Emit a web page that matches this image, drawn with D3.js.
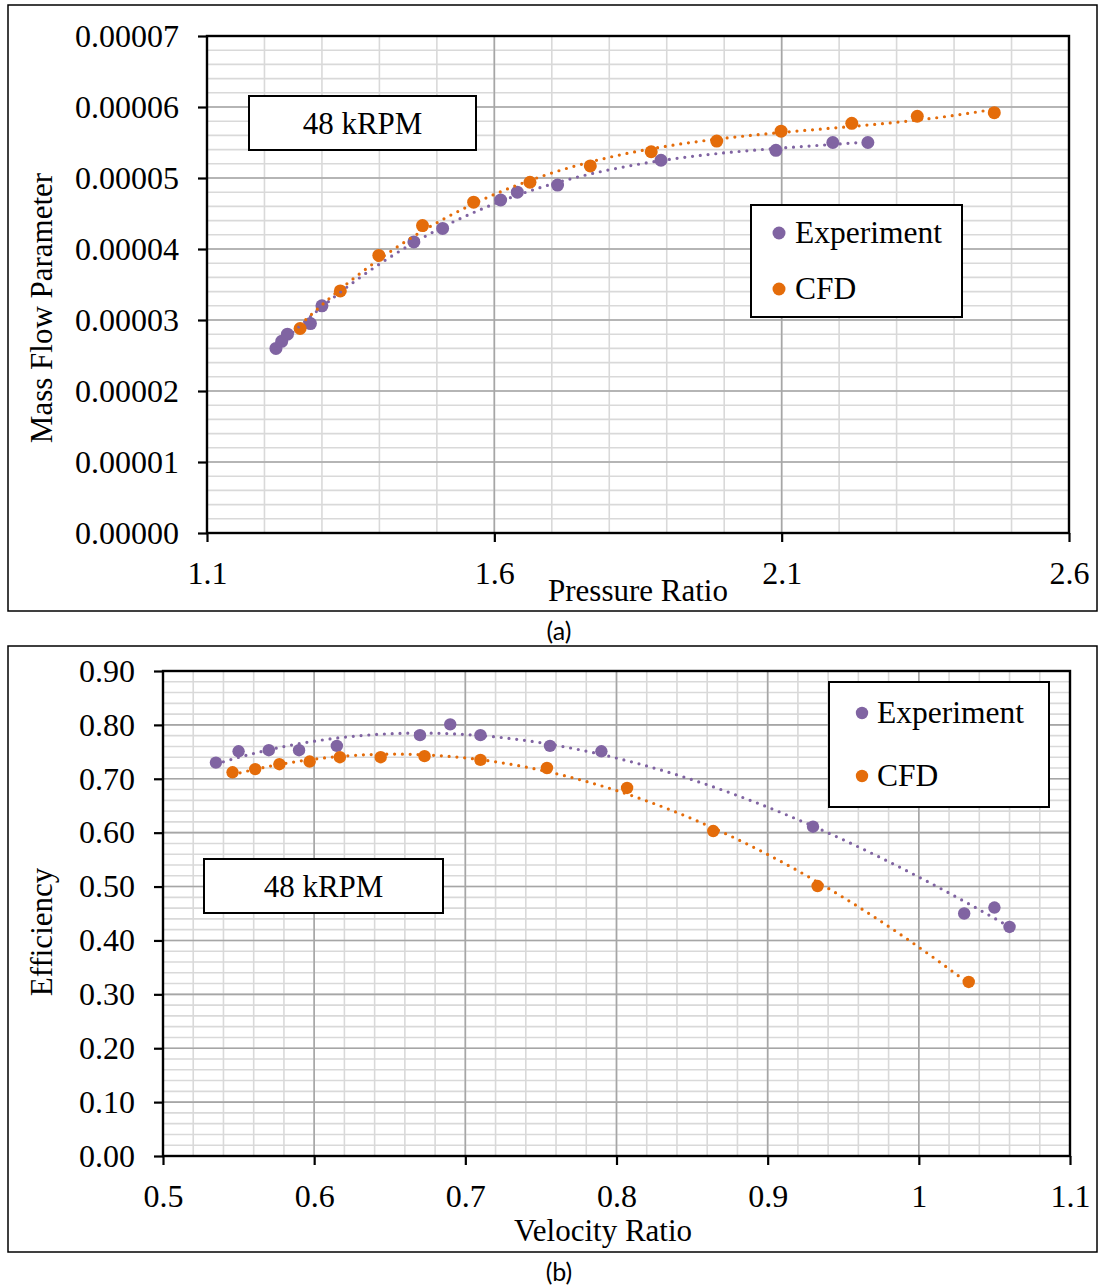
<!DOCTYPE html>
<html>
<head>
<meta charset="utf-8">
<script src="https://cdn.jsdelivr.net/npm/d3@7"></script>
<style>
  body { margin: 0; background: #fff; }
  svg text { font-family: "Liberation Serif", "Times New Roman", serif; fill: #000; }
  svg text.caption { font-family: Lato, "Open Sans", sans-serif; }
</style>
</head>
<body>
<svg id="fig" width="1099" height="1286"></svg>
<script>
// ---- Panel (a): mass flow parameter vs pressure ratio ----
const prExperiment  = [1.220, 1.230, 1.240, 1.280, 1.300, 1.460, 1.510, 1.611, 1.640, 1.710, 1.890, 2.090, 2.189, 2.250];
const mfpExperiment = [2.60e-5, 2.70e-5, 2.80e-5, 2.95e-5, 3.20e-5, 4.10e-5, 4.29e-5, 4.69e-5, 4.80e-5, 4.90e-5, 5.25e-5, 5.39e-5, 5.50e-5, 5.50e-5];
const prCFD  = [1.262, 1.332, 1.399, 1.475, 1.564, 1.662, 1.767, 1.873, 1.987, 2.099, 2.222, 2.336, 2.470];
const mfpCFD = [2.88e-5, 3.41e-5, 3.91e-5, 4.33e-5, 4.66e-5, 4.94e-5, 5.17e-5, 5.37e-5, 5.52e-5, 5.66e-5, 5.77e-5, 5.87e-5, 5.92e-5];
const prTicks  = [1.1, 1.6, 2.1, 2.6];
const mfpTicks = [0, 0.00001, 0.00002, 0.00003, 0.00004, 0.00005, 0.00006, 0.00007];

// ---- Panel (b): efficiency vs velocity ratio ----
const vrExperiment  = [0.535, 0.550, 0.570, 0.590, 0.615, 0.670, 0.690, 0.710, 0.756, 0.790, 0.930, 1.030, 1.050, 1.060];
const effExperiment = [0.730, 0.751, 0.753, 0.753, 0.761, 0.781, 0.801, 0.781, 0.761, 0.751, 0.611, 0.450, 0.461, 0.425];
const vrCFD  = [0.546, 0.561, 0.577, 0.597, 0.617, 0.644, 0.673, 0.710, 0.754, 0.807, 0.864, 0.933, 1.033];
const effCFD = [0.712, 0.718, 0.727, 0.732, 0.740, 0.740, 0.742, 0.735, 0.720, 0.683, 0.603, 0.501, 0.323];
const vrTicks  = [0.5, 0.6, 0.7, 0.8, 0.9, 1.0, 1.1];
const effTicks = [0, 0.1, 0.2, 0.3, 0.4, 0.5, 0.6, 0.7, 0.8, 0.9];

const seriesNames  = ["Experiment", "CFD"];
const seriesColors = ["#8064A2", "#E46C0A"];
const speedLabel = "48 kRPM";

const svg = d3.select("#fig");

// Least-squares polynomial fit (x centred for conditioning)
function polyfit(xs, ys, order) {
  const mx = d3.mean(xs);
  const n = order + 1;
  const A = Array.from({length: n}, () => new Array(n).fill(0));
  const b = new Array(n).fill(0);
  xs.forEach((x0, k) => {
    const x = x0 - mx;
    for (let i = 0; i < n; i++) {
      b[i] += ys[k] * Math.pow(x, i);
      for (let j = 0; j < n; j++) A[i][j] += Math.pow(x, i + j);
    }
  });
  for (let c = 0; c < n; c++) {
    let p = c;
    for (let r = c + 1; r < n; r++) if (Math.abs(A[r][c]) > Math.abs(A[p][c])) p = r;
    [A[c], A[p]] = [A[p], A[c]]; [b[c], b[p]] = [b[p], b[c]];
    for (let r = c + 1; r < n; r++) {
      const f = A[r][c] / A[c][c];
      for (let j = c; j < n; j++) A[r][j] -= f * A[c][j];
      b[r] -= f * b[c];
    }
  }
  const coef = new Array(n).fill(0);
  for (let i = n - 1; i >= 0; i--) {
    let s = b[i];
    for (let j = i + 1; j < n; j++) s -= A[i][j] * coef[j];
    coef[i] = s / A[i][i];
  }
  return x => coef.reduce((s, c, i) => s + c * Math.pow(x - mx, i), 0);
}

function drawPanel(cfg) {
  const g = svg.append("g");
  // outer frame
  g.append("rect").attr("x", cfg.frame[0]).attr("y", cfg.frame[1])
    .attr("width", cfg.frame[2] - cfg.frame[0]).attr("height", cfg.frame[3] - cfg.frame[1])
    .attr("fill", "none").attr("stroke", "#000").attr("stroke-width", 1.5);

  const x = d3.scaleLinear().domain(cfg.xDomain).range([cfg.left, cfg.right]);
  const y = d3.scaleLinear().domain(cfg.yDomain).range([cfg.bottom, cfg.top]);

  // minor grid
  const xMinor = d3.range(cfg.xDomain[0], cfg.xDomain[1] + cfg.xMinor / 2, cfg.xMinor);
  const yMinor = d3.range(cfg.yDomain[0], cfg.yDomain[1] + cfg.yMinor / 2, cfg.yMinor);
  g.append("g").selectAll("line").data(xMinor).join("line")
    .attr("x1", d => x(d)).attr("x2", d => x(d)).attr("y1", cfg.top).attr("y2", cfg.bottom)
    .attr("stroke", "#d9d9d9").attr("stroke-width", 1.6);
  g.append("g").selectAll("line").data(yMinor).join("line")
    .attr("x1", cfg.left).attr("x2", cfg.right).attr("y1", d => y(d)).attr("y2", d => y(d))
    .attr("stroke", "#d9d9d9").attr("stroke-width", 1.6);
  // major grid
  g.append("g").selectAll("line").data(cfg.xTicks).join("line")
    .attr("x1", d => x(d)).attr("x2", d => x(d)).attr("y1", cfg.top).attr("y2", cfg.bottom)
    .attr("stroke", "#a6a6a6").attr("stroke-width", 1.6);
  g.append("g").selectAll("line").data(cfg.yTicks).join("line")
    .attr("x1", cfg.left).attr("x2", cfg.right).attr("y1", d => y(d)).attr("y2", d => y(d))
    .attr("stroke", "#a6a6a6").attr("stroke-width", 1.6);

  // plot border (top / right) and axes
  g.append("rect").attr("x", cfg.left).attr("y", cfg.top)
    .attr("width", cfg.right - cfg.left).attr("height", cfg.bottom - cfg.top)
    .attr("fill", "none").attr("stroke", "#000").attr("stroke-width", 2.4);

  const yAxis = g.append("g").attr("transform", `translate(${cfg.left},0)`)
    .call(d3.axisLeft(y).tickValues(cfg.yTicks).tickFormat(cfg.yFormat).tickSize(9).tickPadding(19));
  const xAxis = g.append("g").attr("transform", `translate(0,${cfg.bottom})`)
    .call(d3.axisBottom(x).tickValues(cfg.xTicks).tickFormat(cfg.xFormat).tickSize(9).tickPadding(19));
  [yAxis, xAxis].forEach(a => {
    a.select(".domain").remove();
    a.selectAll(".tick line").attr("stroke", "#000").attr("stroke-width", 2.2);
    a.selectAll(".tick text").attr("font-size", 32).attr("fill", "#000");
  });

  // axis titles
  g.append("text").attr("x", cfg.xTitle[0]).attr("y", cfg.xTitle[1])
    .attr("text-anchor", "middle").attr("font-size", 31).text(cfg.xLabel);
  g.append("text").attr("transform", `translate(${cfg.yTitle[0]},${cfg.yTitle[1]}) rotate(-90)`)
    .attr("text-anchor", "middle").attr("font-size", 31).text(cfg.yLabel);

  // markers
  cfg.series.forEach((s, i) => {
    g.append("g").selectAll("circle").data(s.xs.map((v, k) => [v, s.ys[k]])).join("circle")
      .attr("cx", d => x(d[0])).attr("cy", d => y(d[1])).attr("r", cfg.r)
      .attr("fill", seriesColors[i]);
  });
  // dotted polynomial trendlines
  cfg.series.forEach((s, i) => {
    const f = polyfit(s.xs, s.ys, cfg.order[i]);
    const [x0, x1] = d3.extent(s.xs);
    const pts = d3.range(0, 201).map(k => x0 + (x1 - x0) * k / 200);
    g.append("path")
      .attr("d", d3.line().x(v => x(v)).y(v => y(f(v)))(pts))
      .attr("fill", "none").attr("stroke", seriesColors[i])
      .attr("stroke-width", 3.2).attr("stroke-linecap", "round")
      .attr("stroke-dasharray", "0 7.8");
  });

  // speed label box
  const sb = cfg.speedBox;
  g.append("rect").attr("x", sb[0]).attr("y", sb[1]).attr("width", sb[2] - sb[0]).attr("height", sb[3] - sb[1])
    .attr("fill", "#fff").attr("stroke", "#000").attr("stroke-width", 2);
  g.append("text").attr("x", (sb[0] + sb[2]) / 2).attr("y", (sb[1] + sb[3]) / 2 + 11)
    .attr("text-anchor", "middle").attr("font-size", 31).text(speedLabel);

  // legend
  const lb = cfg.legendBox;
  g.append("rect").attr("x", lb[0]).attr("y", lb[1]).attr("width", lb[2] - lb[0]).attr("height", lb[3] - lb[1])
    .attr("fill", "#fff").attr("stroke", "#000").attr("stroke-width", 2);
  seriesNames.forEach((name, i) => {
    const cy = cfg.legendRows[i];
    g.append("circle").attr("cx", cfg.legendMarkerX).attr("cy", cy).attr("r", cfg.r)
      .attr("fill", seriesColors[i]);
    g.append("text").attr("x", cfg.legendTextX).attr("y", cy + 10)
      .attr("font-size", 31.5).text(name);
  });

  // panel caption
  g.append("text").attr("class", "caption").attr("x", cfg.caption[0]).attr("y", cfg.caption[1])
    .attr("text-anchor", "middle").attr("font-size", 25).text(cfg.captionText);
}

drawPanel({
  frame: [8, 5, 1097, 611],
  left: 207, right: 1069, top: 36, bottom: 533,
  xDomain: [1.1, 2.6], yDomain: [0, 0.00007],
  xMinor: 0.1, yMinor: 0.000002,
  xTicks: prTicks, yTicks: mfpTicks,
  xFormat: d => d.toFixed(1), yFormat: d => d.toFixed(5),
  xLabel: "Pressure Ratio", yLabel: "Mass Flow Parameter",
  xTitle: [638, 601], yTitle: [52, 308],
  series: [{xs: prExperiment, ys: mfpExperiment}, {xs: prCFD, ys: mfpCFD}],
  order: [3, 3],
  r: 6.5,
  speedBox: [249, 96, 476, 150],
  legendBox: [751, 205, 962, 317], legendRows: [233, 289], legendMarkerX: 779, legendTextX: 795,
  caption: [559, 640], captionText: "(a)"
});

drawPanel({
  frame: [8, 646, 1097, 1252],
  left: 163, right: 1070, top: 671, bottom: 1156,
  xDomain: [0.5, 1.1], yDomain: [0, 0.9],
  xMinor: 0.02, yMinor: 0.02,
  xTicks: vrTicks, yTicks: effTicks,
  xFormat: d => String(+d.toFixed(1)), yFormat: d => d.toFixed(2),
  xLabel: "Velocity Ratio", yLabel: "Efficiency",
  xTitle: [603, 1241], yTitle: [52, 932],
  series: [{xs: vrExperiment, ys: effExperiment}, {xs: vrCFD, ys: effCFD}],
  order: [3, 3],
  r: 6.2,
  speedBox: [204, 859, 443, 913],
  legendBox: [829, 682, 1049, 807], legendRows: [713, 776], legendMarkerX: 862, legendTextX: 877,
  caption: [559, 1281], captionText: "(b)"
});
</script>
</body>
</html>
